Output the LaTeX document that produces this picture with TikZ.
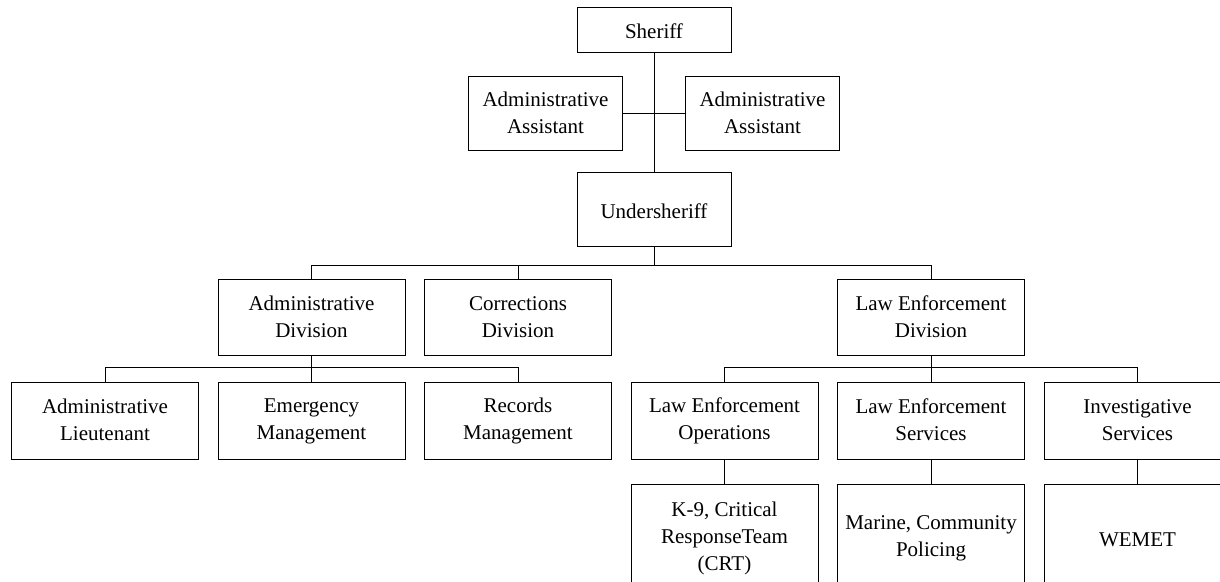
\documentclass[tikz,border=0pt]{standalone}
\usepackage{fontspec}
\setmainfont{Liberation Serif}
\usepackage{tikz}
\usetikzlibrary{positioning}

% strut that keeps every box's text at the same height
\newcommand{\boxstrut}{\rule[-1.2pt]{0pt}{10.5pt}}

\begin{document}
\begin{tikzpicture}[
  node distance=13pt,
  box/.style={rectangle, draw=black, line width=0.5pt, minimum width=93.5pt, minimum height=38pt, align=center, inner sep=1pt, font=\fontsize{10.5}{13.5}\selectfont, execute at begin node=\boxstrut, execute at end node=\boxstrut},
  small/.style={box, minimum width=77pt, minimum height=37pt},
  tall/.style={box, minimum height=54pt},
  link/.style={draw=black, line width=0.5pt},
]

\useasboundingbox[fill=white] (0,0) rectangle (610pt,-291pt);
\clip (0,0) rectangle (610pt,-291pt);

% Command staff
\node[small] (usher) at (327pt,-105pt) {Undersheriff};
\node[small, minimum height=22.5pt, above=59.5pt of usher] (sheriff) {Sheriff};
\coordinate (mid) at (327pt,-57pt);
\node[small, left=15.5pt of mid] (aidea) {Administrative\\Assistant};
\node[small, right=15.5pt of mid] (aideb) {Administrative\\Assistant};

% Sections
\node[box] (adminlt) at (52.5pt,-210.5pt) {Administrative\\Lieutenant};
\node[box, right=9.25pt of adminlt] (emgmt) {Emergency\\Management};
\node[box, right=9.25pt of emgmt] (records) {Records\\Management};
\node[box, right=9.25pt of records] (leops) {Law Enforcement\\Operations};
\node[box, right=9.25pt of leops] (leserv) {Law Enforcement\\Services};
\node[box, right=9.25pt of leserv] (invest) {Investigative\\Services};

% Divisions
\node[box, above=of emgmt] (admindiv) {Administrative\\Division};
\node[box, above=of records] (corrdiv) {Corrections\\Division};
\node[box, above=of leserv] (lediv) {Law Enforcement\\Division};

% Units
\node[tall, below=12pt of leops] (kcrt) {K-9, Critical\\ResponseTeam\\(CRT)};
\node[tall, below=12pt of leserv] (marine) {Marine, Community\\Policing};
\node[tall, below=12pt of invest] (wemet) {WEMET};

% Connections
\draw[link] (sheriff.south) -- (usher.north);
\draw[link] (aidea.east) -- (aideb.west);

\draw[link] (usher.south) -- ++(0,-9pt) -| (admindiv.north);
\draw[link] (usher.south) -- ++(0,-9pt) -| (corrdiv.north);
\draw[link] (usher.south) -- ++(0,-9pt) -| (lediv.north);

\draw[link] (admindiv.south) -- ++(0,-5.5pt) -| (adminlt.north);
\draw[link] (admindiv.south) -- (emgmt.north);
\draw[link] (admindiv.south) -- ++(0,-5.5pt) -| (records.north);

\draw[link] (lediv.south) -- ++(0,-5.5pt) -| (leops.north);
\draw[link] (lediv.south) -- (leserv.north);
\draw[link] (lediv.south) -- ++(0,-5.5pt) -| (invest.north);

\draw[link] (leops.south) -- (kcrt.north);
\draw[link] (leserv.south) -- (marine.north);
\draw[link] (invest.south) -- (wemet.north);

\end{tikzpicture}
\end{document}
